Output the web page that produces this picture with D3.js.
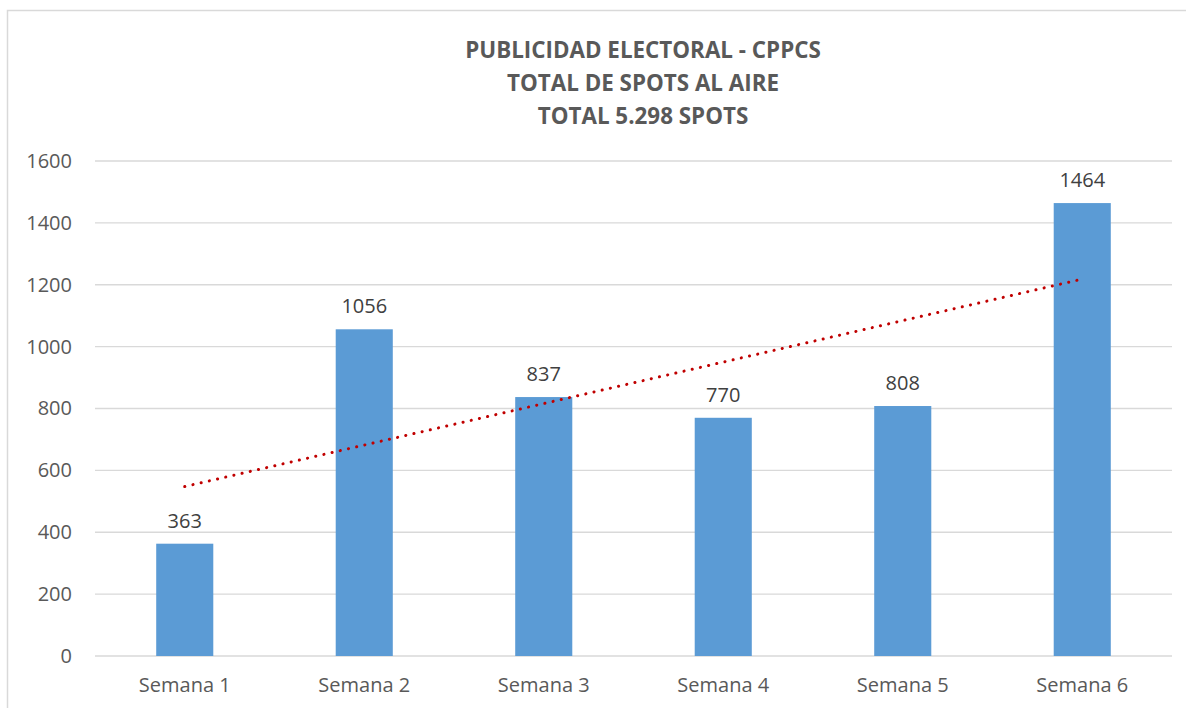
<!DOCTYPE html>
<html><head><meta charset="utf-8">
<script src="https://cdn.jsdelivr.net/npm/d3@7"></script>
<style>
html,body{margin:0;padding:0;background:#fff;}
svg{display:block;font-family:"Open Sans",sans-serif;}
</style></head>
<body>
<svg id="chart" width="1186" height="708"></svg>
<script>
const titleLines = ["PUBLICIDAD ELECTORAL - CPPCS", "TOTAL DE SPOTS AL AIRE", "TOTAL 5.298 SPOTS"];
const categories = ["Semana 1","Semana 2","Semana 3","Semana 4","Semana 5","Semana 6"];
const spots = [363, 1056, 837, 770, 808, 1464];
const yTicks = [0, 200, 400, 600, 800, 1000, 1200, 1400, 1600];

const svg = d3.select("#chart");
const W = 1186, H = 708;
const m = {left: 95, right: 14, top: 161, bottom: 52};
const FONT = "'Open Sans',sans-serif";

// chart border
svg.append("path")
  .attr("d", `M7.5,${H} V10.5 H${W}`)
  .attr("fill","none").attr("stroke","#d9d9d9").attr("stroke-width",1.5);

const x = d3.scaleBand().domain(categories).range([m.left, W - m.right]).paddingInner(0.682).paddingOuter(0.341);
const y = d3.scaleLinear().domain([0,1600]).range([H - m.bottom, m.top]);

// gridlines
svg.append("g").selectAll("line").data(yTicks).join("line")
  .attr("x1", m.left).attr("x2", W - m.right)
  .attr("y1", d => y(d)).attr("y2", d => y(d))
  .attr("stroke","#d9d9d9").attr("stroke-width",1.3);

// y axis labels
const yAxis = d3.axisLeft(y).tickValues(yTicks).tickSize(0).tickPadding(0).tickFormat(d3.format("d"));
const ga = svg.append("g").attr("transform",`translate(${m.left-23},0)`).call(yAxis);
ga.select(".domain").remove();
ga.selectAll("text").attr("font-size",20).attr("fill","#595959").attr("font-family",FONT);

// x axis labels
const xAxis = d3.axisBottom(x).tickSize(0).tickPadding(0);
const gx = svg.append("g").attr("transform",`translate(0,${y(0)+22})`).call(xAxis);
gx.select(".domain").remove();
gx.selectAll("text").attr("font-size",20).attr("fill","#595959").attr("font-family",FONT);

// bars
const data = categories.map((c,i)=>({c, v: spots[i]}));
svg.append("g").selectAll("rect").data(data).join("rect")
  .attr("x", d => x(d.c)).attr("width", x.bandwidth())
  .attr("y", d => y(d.v)).attr("height", d => y(0) - y(d.v))
  .attr("fill","#5b9bd5");

// value labels
svg.append("g").selectAll("text").data(data).join("text")
  .attr("x", d => x(d.c) + x.bandwidth()/2).attr("y", d => y(d.v) - 16)
  .attr("text-anchor","middle").attr("font-size",20).attr("fill","#404040")
  .text(d => d.v);

// linear trendline (least squares on category index)
const n = spots.length;
const xs = d3.range(1, n+1);
const mx = d3.mean(xs), my = d3.mean(spots);
const slope = d3.sum(xs.map((xi,i)=>(xi-mx)*(spots[i]-my))) / d3.sum(xs.map(xi=>(xi-mx)**2));
const intercept = my - slope*mx;
const trend = [1, n].map(xi => ({c: categories[xi-1], v: intercept + slope*xi}));
svg.append("path")
  .datum(trend)
  .attr("d", d3.line().x(d => x(d.c) + x.bandwidth()/2).y(d => y(d.v)))
  .attr("fill","none").attr("stroke","#c00000").attr("stroke-width",3)
  .attr("stroke-linecap","round").attr("stroke-dasharray","0.1 8.3");

// title
svg.append("g").selectAll("text").data(titleLines).join("text")
  .attr("x", 643).attr("y", (d,i) => 58 + i*33)
  .attr("text-anchor","middle").attr("font-size",22.4).attr("font-weight","bold")
  .attr("fill","#595959").text(d => d);
</script>
</body></html>
